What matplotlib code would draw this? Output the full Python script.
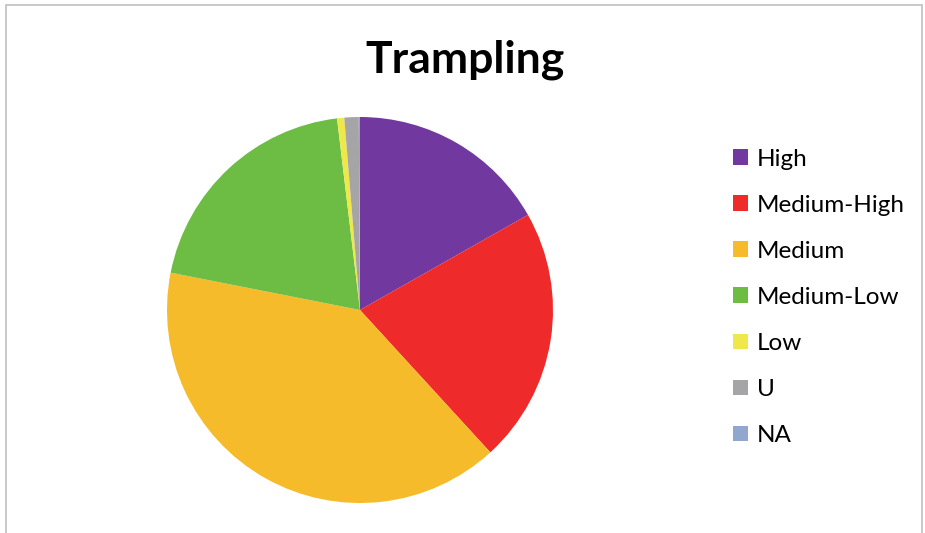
import matplotlib.pyplot as plt
from matplotlib.patches import Rectangle, Patch

labels = ['High', 'Medium-High', 'Medium', 'Medium-Low', 'Low', 'U', 'NA']
values = [16.8, 21.4, 39.9, 20.0, 0.6, 1.2, 0.1]
colors = ['#7139A0', '#EE2A2A', '#F5BB2A', '#6DBD45', '#EEE84A', '#A5A5A8', '#90A8CE']

plt.rcParams['font.family'] = ['Lato', 'DejaVu Sans']

fig = plt.figure(figsize=(9.25, 5.33), dpi=100)

# chart border (bottom edge runs off the image)
fig.patches.append(Rectangle((6 / 925, -0.05), 916 / 925, 1.05 - 5 / 533,
                             transform=fig.transFigure, fill=False,
                             edgecolor='#BFBFBF', linewidth=1.2))

ax = fig.add_axes([167 / 925, 30 / 533, 386 / 925, 386 / 533])
ax.pie(values, colors=colors, startangle=90, counterclock=False,
       radius=1, wedgeprops=dict(linewidth=0))
ax.set_xlim(-1, 1)
ax.set_ylim(-1, 1)
ax.set_aspect('equal')
ax.axis('off')

fig.text(465 / 925, 1 - 60 / 533, 'Trampling', ha='center', va='center',
         fontsize=32, fontweight='bold')

handles = [Patch(facecolor=c, edgecolor='none') for c in colors]
leg = fig.legend(handles, labels, loc='upper left',
                 bbox_to_anchor=(711 / 925, 1 - 127 / 533),
                 frameon=False, fontsize=17.5, handlelength=0.63,
                 handleheight=0.63, handletextpad=0.35, labelspacing=1.03)

fig.savefig('out.png', dpi=100)
